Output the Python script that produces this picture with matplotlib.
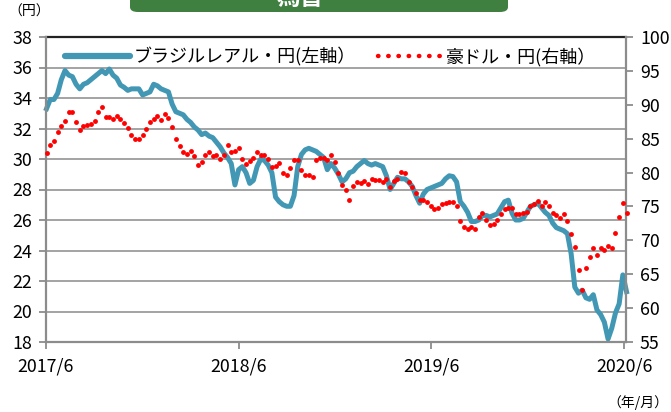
import matplotlib
matplotlib.use('Agg')
import matplotlib.pyplot as plt
from matplotlib.lines import Line2D
from matplotlib.patches import FancyBboxPatch
import pandas as pd

plt.rcParams['font.family'] = ['Noto Sans CJK JP', 'DejaVu Sans']

# ---- data (weekly) ----
dates = pd.date_range('2017-06-02', periods=158, freq='W-FRI')

brl_jpy = [
    33.3, 33.9, 33.9, 34.3, 35.2, 35.8, 35.5, 35.4, 34.9, 34.6,
    34.9, 35.0, 35.2, 35.4, 35.6, 35.8, 35.6, 35.9, 35.5, 35.3,
    34.85, 34.7, 34.5, 34.6, 34.6, 34.6, 34.2, 34.3, 34.4, 34.9,
    34.8, 34.6, 34.5, 34.4, 33.6, 33.1, 33.0, 32.9, 32.6, 32.4,
    32.1, 31.9, 31.6, 31.7, 31.5, 31.4, 31.1, 30.8, 30.4, 30.1,
    29.7, 28.3, 29.3, 29.5, 29.1, 28.4, 28.6, 29.5, 30.0, 29.9,
    29.6, 29.1, 27.5, 27.2, 27.0, 26.9, 26.9, 27.6, 29.5, 30.3,
    30.6, 30.7, 30.6, 30.5, 30.3, 30.1, 29.3, 29.7, 29.4, 29.0,
    28.5, 28.7, 29.1, 29.2, 29.5, 29.7, 29.9, 29.7, 29.6, 29.7,
    29.6, 29.5, 28.9, 28.0, 28.4, 28.8, 28.7, 28.7, 28.5, 28.2,
    27.6, 27.1, 27.7, 28.0, 28.1, 28.2, 28.3, 28.4, 28.7, 28.9,
    28.85, 28.5, 27.2, 26.9, 26.5, 25.9, 25.9, 26.0, 26.3, 26.3,
    26.2, 26.3, 26.4, 26.8, 27.2, 27.3, 26.45, 26.0, 26.0, 26.1,
    26.5, 26.9, 27.0, 27.1, 26.8, 26.5, 26.3, 25.8, 25.5, 25.4,
    25.3, 25.1, 23.8, 21.6, 21.2, 21.4, 20.9, 20.8, 21.1, 20.1,
    19.8, 19.3, 18.2, 18.9, 19.9, 20.5, 22.4, 21.3,
]

aud_jpy = [
    82.9, 84.1, 84.6, 86.0, 86.8, 87.6, 88.9, 88.9, 87.4, 86.3,
    86.9, 87.0, 87.2, 87.6, 88.9, 89.6, 88.2, 88.2, 87.9, 88.3,
    87.9, 87.3, 86.6, 85.6, 85.0, 85.0, 85.6, 86.4, 87.4, 87.9,
    88.4, 87.8, 88.6, 88.0, 86.7, 85.0, 83.9, 83.0, 82.7, 83.2,
    82.5, 81.1, 81.6, 82.6, 83.0, 82.4, 82.6, 82.0, 82.6, 84.1,
    83.0, 83.2, 83.6, 82.0, 81.2, 81.7, 82.1, 83.1, 82.6, 82.6,
    82.0, 80.8, 81.0, 81.4, 80.0, 79.6, 80.7, 81.9, 81.9, 80.4,
    79.6, 79.7, 79.3, 81.8, 82.2, 82.2, 81.9, 82.6, 81.5, 80.0,
    78.2, 77.5, 76.0, 78.0, 78.6, 78.5, 78.7, 78.3, 79.0, 78.9,
    78.9, 78.6, 79.0, 77.9, 78.7, 79.1, 80.1, 79.9, 78.6, 77.9,
    77.0, 76.0, 75.9, 75.7, 75.1, 74.6, 74.7, 75.3, 75.5, 75.6,
    75.6, 75.0, 72.8, 72.0, 71.6, 72.0, 71.7, 73.4, 74.0, 73.0,
    72.3, 72.4, 73.0, 73.9, 74.6, 74.8, 74.7, 73.9, 73.9, 74.0,
    74.2, 75.1, 75.3, 75.8, 75.0, 75.7, 75.1, 74.0, 73.7, 73.3,
    73.9, 72.8, 71.0, 69.0, 65.6, 62.7, 65.9, 67.5, 68.8, 67.8,
    68.9, 68.5, 69.2, 68.9, 71.1, 73.5, 75.5, 74.0,
]

left_ticks = [18, 20, 22, 24, 26, 28, 30, 32, 34, 36, 38]
right_ticks = [55, 60, 65, 70, 75, 80, 85, 90, 95, 100]
x_tick_dates = ['2017-06-01', '2018-06-01', '2019-06-01', '2020-06-01']
x_tick_labels = ['2017/6', '2018/6', '2019/6', '2020/6']

label_brl = 'ブラジルレアル・円(左軸）'
label_aud = '豪ドル・円(右軸）'
title_text = '為替'

# ---- figure ----
W, H = 671, 412
fig = plt.figure(figsize=(W / 100, H / 100), dpi=100)
ax = fig.add_axes([46 / W, 1 - 342 / H, (626 - 46) / W, (342 - 37) / H])

teal = '#4298B4'
grid_c = '#9C9C9C'
axis_c = '#8C8C8C'
tick_fs = 12.8

ax.set_ylim(18, 38)
ax.set_xlim(pd.Timestamp('2017-06-01'), pd.Timestamp('2020-06-04'))
ax.set_yticks(left_ticks)
ax.set_yticklabels([str(v) for v in left_ticks], fontsize=tick_fs)
for v in left_ticks[1:-1]:
    ax.axhline(v, color=grid_c, lw=1.3, zorder=0)
ax.axhline(38, color='#222222', lw=1.6, zorder=0, clip_on=False)

ax.plot(dates, brl_jpy, color=teal, lw=3.6, solid_joinstyle='round',
        zorder=2, clip_on=False)

ax.set_xticks([pd.Timestamp(d) for d in x_tick_dates])
ax.set_xticklabels(x_tick_labels, fontsize=tick_fs)
ax.tick_params(axis='x', direction='out', length=5, color=axis_c, width=1.3, pad=6)
ax.tick_params(axis='y', direction='out', length=5, color=axis_c, width=1.3, pad=5)

for s in ['left', 'bottom']:
    ax.spines[s].set_color(axis_c)
    ax.spines[s].set_linewidth(1.6)
ax.spines['top'].set_visible(False)
ax.spines['right'].set_visible(False)

ax2 = ax.twinx()
ax2.set_ylim(55, 100)
ax2.set_yticks(right_ticks)
ax2.set_yticklabels([str(v) for v in right_ticks], fontsize=tick_fs)
ax2.plot(dates, aud_jpy, linestyle='none', marker='o', markersize=3.5,
         color='#FF0000', markeredgewidth=0, zorder=3, clip_on=False)
ax2.tick_params(axis='y', direction='out', length=5, color=axis_c, width=1.3, pad=5)
for s in ['top', 'left', 'bottom']:
    ax2.spines[s].set_visible(False)
ax2.spines['right'].set_color(axis_c)
ax2.spines['right'].set_linewidth(1.6)

handles = [
    Line2D([0], [0], color=teal, lw=4.5, solid_capstyle='round'),
    Line2D([0], [0], color='#FF0000', lw=3.2, linestyle=(0, (0.1, 2.2)),
           dash_capstyle='round'),
]
ax2.legend(handles, [label_brl, label_aud], loc='center',
           bbox_to_anchor=(0.491, 0.934), ncol=2, frameon=False,
           fontsize=13, handlelength=3.6, columnspacing=1.2,
           handletextpad=0.2)

# title bar (clipped at the top edge, as in the source image)
bar = FancyBboxPatch((130 / W, 1 - 12 / H), (508 - 130) / W, 30 / H,
                     boxstyle='round,pad=0,rounding_size=0.012',
                     transform=fig.transFigure, facecolor='#3F7F40',
                     edgecolor='none', clip_on=False)
fig.patches.append(bar)
fig.text(300 / W, 1 + 2 / H, title_text, color='white', fontsize=17,
         fontweight='bold', ha='center', va='center')

fig.text(8 / W, 1 - 12 / H, '（円）', fontsize=10, ha='left', va='center')
fig.text(668 / W, 1 - 403 / H, '（年/月）', fontsize=10, ha='right', va='center')

fig.savefig('out.png', dpi=100)
